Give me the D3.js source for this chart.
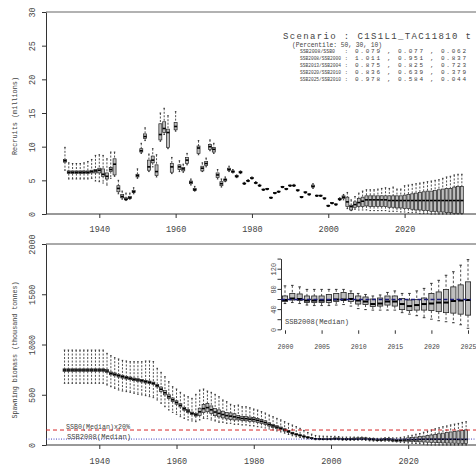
<!DOCTYPE html>
<html><head><meta charset="utf-8">
<script src="https://cdn.jsdelivr.net/npm/d3@7"></script>
<style>body{margin:0;background:#fff}svg{display:block}</style>
</head><body>
<svg id="c" width="476" height="475"></svg>
<script>
// ---------------- DATA ----------------
const years = [1931,1932,1933,1934,1935,1936,1937,1938,1939,1940,1941,1942,1943,1944,1945,1946,1947,1948,1949,1950,
1951,1952,1953,1954,1955,1956,1957,1958,1959,1960,1961,1962,1963,1964,1965,1966,1967,1968,1969,1970,
1971,1972,1973,1974,1975,1976,1977,1978,1979,1980,1981,1982,1983,1984,1985,1986,1987,1988,1989,1990,
1991,1992,1993,1994,1995,1996,1997,1998,1999,2000,2001,2002,2003,2004,2005,2006,2007,2008,2009,2010,
2011,2012,2013,2014,2015,2016,2017,2018,2019,2020,2021,2022,2023,2024,2025,2026,2027,2028,2029,2030,
2031,2032,2033,2034,2035];

// Recruits (millions)
const recLo = [6.5,5.2,5.2,5.2,5.2,5.2,5.2,5.3,4.9,4.8,4.6,4.3,5.3,5.6,3.0,2.2,2.0,2.2,3.0,5.3,
9.0,10.9,6.3,7.0,5.5,10.8,11.8,9.7,6.0,12.3,6.3,6.2,7.3,4.3,3.4,8.8,6.3,7.0,9.4,9.0,
5.2,4.0,4.8,6.3,6.1,5.4,6.0,4.4,4.8,5.2,4.5,4.1,3.5,3.6,2.3,3.0,3.2,3.9,3.6,4.1,
4.1,3.4,2.4,3.1,2.8,3.8,2.6,2.6,2.2,1.1,1.5,1.3,2.0,2.1,0.8,0.5,0.7,0.6,0.6,0.6,
0.5,0.5,0.5,0.5,0.5,0.4,0.4,0.4,0.3,0.3,0.2,0.2,0.2,0.1,0.1,0.1,0.0,0.0,0.0,0.0,
0.0,0.0,0.0,0.0,0.0];
const recQ1 = [7.7,6.0,6.0,6.0,6.0,6.0,6.0,6.1,6.1,6.1,5.6,5.2,6.3,5.8,3.3,2.4,2.1,2.3,3.2,5.5,
9.2,11.2,6.5,7.6,5.7,11.0,12.1,9.9,6.2,12.5,6.6,6.4,7.5,4.5,3.5,9.0,6.4,7.2,9.6,9.2,
5.4,4.2,4.9,6.5,6.2,5.5,6.1,4.5,4.9,5.3,4.6,4.2,3.6,3.7,2.4,3.1,3.3,4.0,3.7,4.2,
4.2,3.5,2.5,3.2,2.9,4.0,2.7,2.7,2.3,1.2,1.6,1.4,2.1,2.3,1.1,0.6,1.0,1.1,1.1,1.2,
1.1,1.1,1.1,1.1,1.1,1.0,1.0,0.9,0.9,0.8,0.8,0.7,0.6,0.6,0.5,0.5,0.4,0.4,0.3,0.3,
0.2,0.2,0.1,0.1,0.1];
const recMed = [7.9,6.2,6.2,6.2,6.2,6.2,6.2,6.3,6.4,6.5,5.9,5.6,6.6,7.4,3.8,2.6,2.2,2.4,3.3,5.7,
9.4,11.5,7.0,8.0,6.3,11.8,12.7,12.1,7.0,13.0,7.0,6.7,8.0,4.7,3.6,9.8,6.8,7.5,10.0,9.6,
5.8,4.5,5.1,6.6,6.3,5.6,6.2,4.5,4.9,5.3,4.6,4.2,3.6,3.7,2.4,3.1,3.3,4.0,3.7,4.2,
4.2,3.5,2.5,3.2,2.9,4.1,2.7,2.7,2.3,1.2,1.6,1.4,2.2,2.5,1.8,1.1,1.4,1.7,1.9,2.1,
2.1,2.1,2.1,2.1,2.1,2.0,2.0,2.0,2.0,2.0,2.0,2.0,2.0,2.0,2.0,2.0,2.0,2.0,2.0,2.0,
2.0,2.0,2.0,2.0,2.0];
const recQ3 = [8.1,6.4,6.4,6.4,6.4,6.4,6.4,6.5,6.6,6.8,6.7,6.1,6.9,8.2,4.2,2.9,2.4,2.6,3.5,5.9,
9.7,11.9,8.0,8.6,7.3,13.4,13.7,12.6,7.5,13.6,7.3,6.9,8.4,4.9,3.8,10.1,7.1,7.8,10.3,9.9,
6.1,4.8,5.2,6.8,6.4,5.7,6.3,4.6,5.0,5.4,4.7,4.3,3.7,3.8,2.5,3.2,3.4,4.1,3.8,4.3,
4.3,3.6,2.6,3.3,3.0,4.3,2.8,2.8,2.4,1.3,1.7,1.5,2.3,2.7,2.5,1.3,1.8,2.3,2.5,2.7,
2.7,2.7,2.7,2.7,2.7,2.7,2.7,2.7,2.7,2.8,2.9,3.0,3.1,3.2,3.3,3.4,3.4,3.5,3.6,3.7,
3.8,3.8,4.0,4.1,4.1];
const recHi = [9.9,7.6,7.5,7.5,7.5,7.6,7.8,8.1,8.7,8.8,8.7,8.2,9.2,9.2,5.0,3.4,3.1,3.1,3.9,6.7,
10.5,12.8,8.9,9.7,8.8,15.0,15.7,14.6,8.4,15.2,7.9,7.4,9.0,5.2,4.1,10.9,7.6,8.3,11.0,10.5,
6.6,5.2,5.5,7.1,6.6,5.8,6.4,4.7,5.1,5.5,4.8,4.4,3.7,3.8,2.5,3.2,3.4,4.1,3.8,4.3,
4.4,3.6,2.6,3.3,3.0,4.5,2.8,2.8,2.4,1.3,1.7,1.5,2.4,2.9,3.2,2.1,2.6,3.1,3.4,3.6,
3.6,3.6,3.7,3.8,3.9,3.8,4.0,3.7,3.7,4.2,4.3,4.4,4.5,4.6,4.7,4.8,4.9,5.0,5.1,5.3,
5.5,5.6,5.8,5.9,5.9];

// Spawning biomass (thousand tonnes)
const ssbLo = [614,614,614,614,614,614,614,614,614,614,614,597,580,564,547,537,531,524,514,504,
498,491,481,471,448,415,381,348,325,305,282,265,249,239,232,249,265,262,249,239,
226,226,216,216,206,206,199,199,192,189,182,178,170,160,150,140,130,118,105,92,
82,75,68,62,56,52,52,52,51,51,53,51,48,47,47,47,48,49,46,41,
39,38,38,38,38,33,30,27,23,20,17,15,13,9,2,0,0,0,0,0,
0,0,0,0,0];
const ssbQ1 = [733,733,733,733,733,733,733,733,733,733,733,721,699,689,676,666,657,650,640,634,
627,617,612,602,578,533,499,462,432,406,379,346,324,302,288,294,322,331,312,292,
280,270,260,255,249,250,243,241,236,234,225,216,205,189,175,164,153,138,124,109,
100,90,80,71,64,58,56,55,55,55,58,57,53,53,53,53,55,57,55,50,
49,45,46,48,46,39,37,38,38,37,35,33,32,30,28,26,24,23,21,20,
19,18,17,16,15];
const ssbMed = [746,746,746,746,746,746,746,746,746,746,746,736,713,703,690,680,670,663,653,647,
640,630,624,614,590,555,520,481,450,423,395,360,338,315,300,330,362,372,350,328,
315,303,292,287,280,272,264,262,257,254,245,235,223,205,190,178,166,150,135,118,
106,96,85,76,68,62,60,58,58,58,61,60,57,57,57,58,59,59,60,57,
55,50,51,55,55,50,46,48,50,51,53,53,56,57,58,58,58,58,58,57,
57,57,56,56,56];
const ssbQ3 = [758,758,758,758,758,758,758,758,758,758,758,751,727,717,704,694,683,676,666,660,
653,643,636,626,602,577,541,500,468,440,411,374,352,328,312,366,402,413,389,364,
350,336,324,319,311,294,285,283,278,274,265,254,241,221,205,192,179,162,146,127,
112,102,90,81,72,66,64,62,62,66,71,70,66,66,66,69,71,73,71,66,
64,60,62,66,66,61,58,59,62,71,74,79,84,88,94,100,106,112,118,124,
130,135,140,145,150];
const ssbHi = [945,945,945,945,945,945,945,945,945,945,945,912,889,869,856,842,836,829,829,829,
829,836,836,830,763,723,680,630,580,557,524,498,481,464,504,547,557,537,524,504,
481,448,431,405,391,398,381,381,371,358,348,332,318,298,282,265,250,232,215,199,
183,166,145,125,108,95,90,88,87,86,87,84,79,79,79,79,79,79,76,71,
69,66,68,73,76,71,71,76,81,91,97,107,114,127,138,150,162,172,182,190,
200,208,215,225,232];

// Inset (2000-2025)
const insetYears = [2000,2001,2002,2003,2004,2005,2006,2007,2008,2009,2010,2011,2012,2013,2014,2015,2016,2017,2018,2019,2020,2021,2022,2023,2024,2025];

// reference values
const ssb0x20 = 149;
const ssb2008Median = 59;

// tick labels
const topYTicks = [0,5,10,15,20,25,30];
const botYTicks = [0,500,1000,1500,2000];
const mainXTicks = [1940,1960,1980,2000,2020];
const insetXTicks = [2000,2005,2010,2015,2020,2025];
const insetYTicks = [0,20,40,60,80,100,120,140];
const insetYLabels = [0,40,80,120];

// text block
const scenarioTitle = "Scenario :  C1S1L1_TAC11810 t";
const percentileText = "(Percentile: 50, 30, 10)";
const ratioLabels = ["SSB2008/SSB0", "SSB2008/SSB2000", "SSB2013/SSB2004", "SSB2020/SSB2010", "SSB2025/SSB2010"];
const ratioValues = ["0.079 , 0.077 , 0.062", "1.011 , 0.951 , 0.837", "0.875 , 0.825 , 0.723", "0.836 , 0.639 , 0.379", "0.978 , 0.584 , 0.044"];

// ---------------- DRAW ----------------
const FONT = "'Liberation Mono','DejaVu Sans Mono',monospace";
const INK = "#222";
const TXT = "#444";
const svg = d3.select("#c");

const xTop = d3.scaleLinear().domain([1940, 2020]).range([99.3, 404.6]);
const yTop = d3.scaleLinear().domain([0, 30]).range([214, 12]);
const xBot = d3.scaleLinear().domain([1940, 2020]).range([99.3, 408.2]);
const yBot = d3.scaleLinear().domain([0, 2000]).range([445, 244]);
const xIn = d3.scaleLinear().domain([2000, 2025]).range([285, 468]);
const yIn = d3.scaleLinear().domain([0, 140]).range([329.3, 258.6]);

const rec = years.map((yr, i) => ({yr, lo: recLo[i], q1: recQ1[i], med: recMed[i], q3: recQ3[i], hi: recHi[i]}));
const ssb = years.map((yr, i) => ({yr, lo: ssbLo[i], q1: ssbQ1[i], med: ssbMed[i], q3: ssbQ3[i], hi: ssbHi[i]}));
const ins = insetYears.map(yr => ssb[years.indexOf(yr)]);

function drawBoxes(g, x, y, data, bw, o) {
  const gg = g.selectAll("g.bx").data(data).join("g").attr("class", "bx");
  gg.append("line").attr("x1", d => x(d.yr)).attr("x2", d => x(d.yr))
    .attr("y1", d => y(d.hi)).attr("y2", d => y(d.q3))
    .attr("stroke", INK).attr("stroke-width", 0.8).attr("stroke-dasharray", o.dash);
  gg.append("line").attr("x1", d => x(d.yr)).attr("x2", d => x(d.yr))
    .attr("y1", d => y(d.q1)).attr("y2", d => y(d.lo))
    .attr("stroke", INK).attr("stroke-width", 0.8).attr("stroke-dasharray", o.dash);
  ["hi", "lo"].forEach(k => {
    gg.append("line").attr("x1", d => x(d.yr) - bw / 4).attr("x2", d => x(d.yr) + bw / 4)
      .attr("y1", d => y(d[k])).attr("y2", d => y(d[k]))
      .attr("stroke", INK).attr("stroke-width", 0.9);
  });
  gg.append("rect").attr("x", d => x(d.yr) - bw / 2).attr("width", bw)
    .attr("y", d => y(d.q3)).attr("height", d => Math.max(0.01, y(d.q1) - y(d.q3)))
    .attr("fill", "#bebebe").attr("stroke", INK).attr("stroke-width", o.bsw);
  gg.append("line").attr("x1", d => x(d.yr) - bw / 2).attr("x2", d => x(d.yr) + bw / 2)
    .attr("y1", d => y(d.med)).attr("y2", d => y(d.med))
    .attr("stroke", "#000").attr("stroke-width", o.mw);
}

function styleYAxis(g, d, fs) {
  g.attr("font-family", FONT).attr("font-size", fs);
  g.select(".domain").attr("stroke", "#333");
  g.selectAll(".tick line").attr("stroke", "#333");
  g.selectAll(".tick text").attr("transform", "rotate(-90)").attr("x", 0).attr("y", -d)
    .attr("dy", 0).attr("text-anchor", "middle").attr("fill", TXT);
}
function styleXAxis(g, dy, fs) {
  g.attr("font-family", FONT).attr("font-size", fs);
  g.select(".domain").remove();
  g.selectAll(".tick line").attr("stroke", "#333");
  g.selectAll(".tick text").attr("y", dy).attr("dy", 0).attr("fill", TXT);
}

// ===== Top panel =====
const topP = svg.append("g");
topP.append("line").attr("x1", 46).attr("x2", 476).attr("y1", yTop(30)).attr("y2", yTop(30))
  .attr("stroke", "#999").attr("stroke-width", 1.5);
topP.append("line").attr("x1", 46).attr("x2", 476).attr("y1", yTop(0)).attr("y2", yTop(0))
  .attr("stroke", "#333");
topP.append("g").attr("transform", "translate(46,0)")
  .call(d3.axisLeft(yTop).tickValues(topYTicks).tickFormat(d3.format("d")).tickSize(4).tickSizeOuter(0))
  .call(g => styleYAxis(g, 11, 8.5));
topP.append("g").attr("transform", `translate(0,${yTop(0)})`)
  .call(d3.axisBottom(xTop).tickValues(mainXTicks).tickFormat(d3.format("d")).tickSize(4))
  .call(g => styleXAxis(g, 18, 8.5));
topP.append("text").attr("transform", "translate(17,116) rotate(-90)").attr("text-anchor", "middle")
  .attr("font-family", FONT).attr("font-size", 7.5).attr("fill", TXT)
  .attr("textLength", 78).attr("lengthAdjust", "spacingAndGlyphs").text("Recruits (millions)");
drawBoxes(topP.append("g"), xTop, yTop, rec, 3.0, {dash: "2,1.5", bsw: 0.7, mw: 1.6});

const tb = topP.append("g").attr("font-family", FONT).attr("fill", TXT);
tb.append("text").attr("x", 283).attr("y", 39.3).attr("font-size", 9)
  .attr("textLength", 188).attr("lengthAdjust", "spacing").text(scenarioTitle);
tb.append("text").attr("x", 292).attr("y", 46.5).attr("font-size", 6.3)
  .attr("textLength", 90).attr("lengthAdjust", "spacing").text(percentileText);
ratioLabels.forEach((lab, i) => {
  const yb = 53.3 + i * 7;
  // labels are horizontally condensed (narrow font look of the original)
  const sx = (lab.length === 12 ? 35 : 41) / (lab.length * 3.6);
  tb.append("text").attr("transform", `translate(300,${yb}) scale(${sx},1)`).attr("font-size", 6).text(lab);
  tb.append("text").attr("x", 344.5).attr("y", yb).attr("font-size", 6).text(":");
  tb.append("text").attr("x", 355).attr("y", yb).attr("font-size", 6)
    .attr("textLength", 111).attr("lengthAdjust", "spacing").text(ratioValues[i]);
});

// ===== Bottom panel =====
const botP = svg.append("g");
botP.append("line").attr("x1", 46).attr("x2", 476).attr("y1", yBot(2000)).attr("y2", yBot(2000))
  .attr("stroke", "#555").attr("stroke-width", 1);
botP.append("line").attr("x1", 46).attr("x2", 476).attr("y1", yBot(0)).attr("y2", yBot(0))
  .attr("stroke", "#333");
botP.append("g").attr("transform", "translate(46,0)")
  .call(d3.axisLeft(yBot).tickValues(botYTicks).tickFormat(d3.format("d")).tickSize(4).tickSizeOuter(0))
  .call(g => styleYAxis(g, 11, 8.5));
botP.append("g").attr("transform", `translate(0,${yBot(0)})`)
  .call(d3.axisBottom(xBot).tickValues(mainXTicks).tickFormat(d3.format("d")).tickSize(4))
  .call(g => styleXAxis(g, 19, 8.5));
botP.append("text").attr("transform", "translate(17,350) rotate(-90)").attr("text-anchor", "middle")
  .attr("font-family", FONT).attr("font-size", 7.5).attr("fill", TXT)
  .attr("textLength", 137).attr("lengthAdjust", "spacingAndGlyphs").text("Spawning biomass (thousand tonnes)");
drawBoxes(botP.append("g"), xBot, yBot, ssb, 3.0, {dash: "2,1.5", bsw: 0.7, mw: 1.6});
botP.append("line").attr("x1", 46).attr("x2", 476).attr("y1", yBot(ssb0x20)).attr("y2", yBot(ssb0x20))
  .attr("stroke", "#d62728").attr("stroke-width", 1).attr("stroke-dasharray", "4,3");
botP.append("line").attr("x1", 46).attr("x2", 476).attr("y1", yBot(ssb2008Median)).attr("y2", yBot(ssb2008Median))
  .attr("stroke", "#4040c0").attr("stroke-width", 1).attr("stroke-dasharray", "1,1.5");
botP.append("text").attr("x", 66).attr("y", 429).attr("font-family", FONT).attr("font-size", 6.5).attr("fill", TXT)
  .attr("textLength", 64).attr("lengthAdjust", "spacingAndGlyphs").text("SSB0(Median)x20%");
botP.append("text").attr("x", 67).attr("y", 438.5).attr("font-family", FONT).attr("font-size", 6.5).attr("fill", TXT)
  .attr("textLength", 64).attr("lengthAdjust", "spacingAndGlyphs").text("SSB2008(Median)");

// ===== Inset =====
const insP = svg.append("g");
insP.append("g").attr("transform", "translate(281,0)")
  .call(d3.axisLeft(yIn).tickValues(insetYTicks).tickSize(3.5).tickSizeOuter(0)
    .tickFormat(d => insetYLabels.includes(d) ? d : ""))
  .call(g => styleYAxis(g, 5.5, 7));
insP.append("g").attr("transform", `translate(0,${yIn(0) + 1})`)
  .call(d3.axisBottom(xIn).tickValues(insetXTicks).tickFormat(d3.format("d")).tickSize(3.5))
  .call(g => styleXAxis(g, 18.5, 6.6));
drawBoxes(insP.append("g"), xIn, yIn, ins, 5.2, {dash: "2.5,2", bsw: 0.8, mw: 2});
insP.append("line").attr("x1", 281).attr("x2", 471).attr("y1", yIn(ssb2008Median)).attr("y2", yIn(ssb2008Median))
  .attr("stroke", "#1c1c78").attr("stroke-width", 1.5).attr("stroke-dasharray", "4,2.5");
insP.append("text").attr("x", 285).attr("y", 323.5).attr("font-family", FONT).attr("font-size", 6.5).attr("fill", TXT)
  .attr("textLength", 64).attr("lengthAdjust", "spacingAndGlyphs").text("SSB2008(Median)");
</script>
</body></html>
